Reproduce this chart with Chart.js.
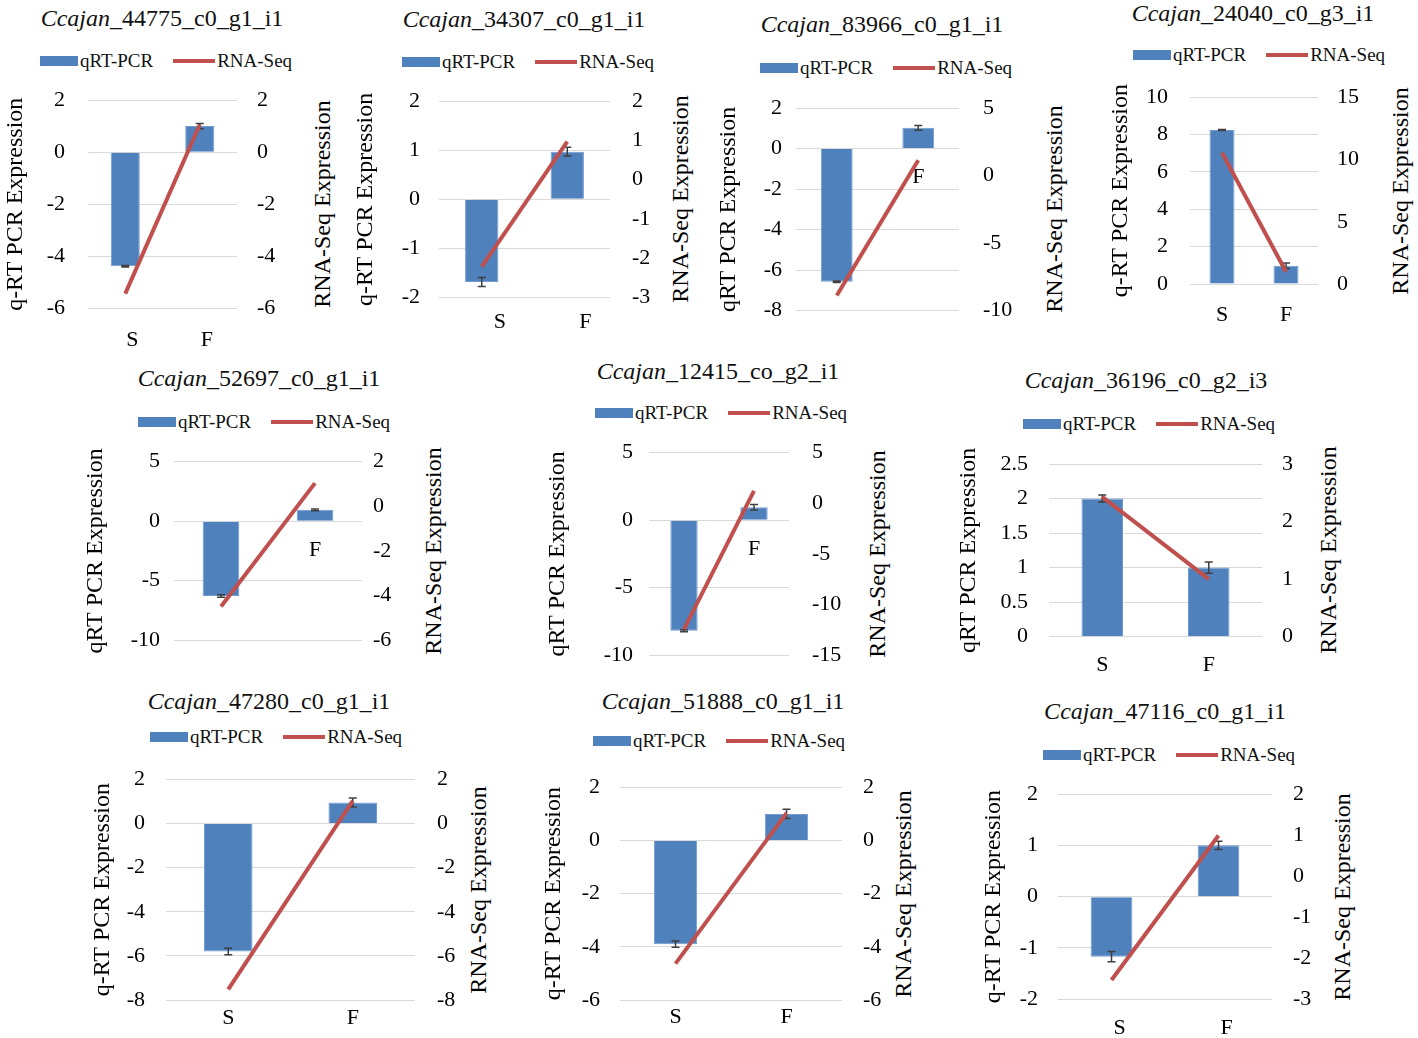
<!DOCTYPE html>
<html>
<head>
<meta charset="utf-8">
<script src="https://cdn.jsdelivr.net/npm/chart.js@4.4.1/dist/chart.umd.min.js"></script>
<style>
  body { margin: 0; background: #fff; }
  #fig { position: relative; width: 1418px; height: 1038px; overflow: hidden;
         font-family: 'Liberation Serif', 'Times New Roman', serif; color: #111; }
  #fig canvas { position: absolute; }
  .head { position: absolute; font-size: 24px; white-space: nowrap; transform: translate(-50%, -50%); }
  .legend { position: absolute; display: flex; align-items: center; font-size: 19px;
            white-space: nowrap; transform: translateY(-50%); }
  .legend .bar { width: 38px; height: 10px; background: #4f81bd; margin-right: 2px; }
  .legend .line { width: 42px; height: 4px; background: #c0504d; margin: 0 2px 0 20px; }
  .rtitle { position: absolute; font-size: 24px; white-space: nowrap; color: #000;
            transform: translate(-50%, -50%) rotate(-90deg); }
</style>
</head>
<body>
<div id="fig"></div>
<script>
// Values, one entry per panel
const genes = [
  'Ccajan_44775_c0_g1_i1', 'Ccajan_34307_c0_g1_i1', 'Ccajan_83966_c0_g1_i1', 'Ccajan_24040_c0_g3_i1',
  'Ccajan_52697_c0_g1_i1', 'Ccajan_12415_co_g2_i1', 'Ccajan_36196_c0_g2_i3',
  'Ccajan_47280_c0_g1_i1', 'Ccajan_51888_c0_g1_i1', 'Ccajan_47116_c0_g1_i1'
];
const conditions = ['S', 'F'];
const seriesNames = ['qRT-PCR', 'RNA-Seq'];

const qpcr = [
  [-4.38, 1.0], [-1.68, 0.97], [-6.57, 1.02], [8.25, 0.98], [-6.3, 0.95],
  [-8.2, 0.95], [2.0, 1.0], [-5.8, 0.95], [-3.9, 1.0], [-1.17, 1.0]
];
const qpcrError = [
  [0.03, 0.1], [0.09, 0.09], [0.04, 0.12], [0.03, 0.15], [0.1, 0.08],
  [0.08, 0.2], [0.05, 0.08], [0.15, 0.2], [0.12, 0.17], [0.1, 0.08]
];
const rnaSeq = [
  [-5.43, 1.05], [-2.21, 0.97], [-8.87, 1.13], [10.54, 0.99], [-4.5, 1.04],
  [-12.45, 1.22], [2.43, 1.0], [-7.52, 1.02], [-4.63, 1.03], [-2.53, 0.99]
];

// axis ranges: [min, max, step]
const leftRange = [
  [-6, 2, 2], [-2, 2, 1], [-8, 2, 2], [0, 10, 2], [-10, 5, 5],
  [-10, 5, 5], [0, 2.5, 0.5], [-8, 2, 2], [-6, 2, 2], [-2, 2, 1]
];
const rightRange = [
  [-6, 2, 2], [-3, 2, 1], [-10, 5, 5], [0, 15, 5], [-6, 2, 2],
  [-15, 5, 5], [0, 3, 1], [-8, 2, 2], [-6, 2, 2], [-3, 2, 1]
];
const leftTitles = [
  'q-RT PCR Expression', 'q-RT PCR Expression', 'qRT PCR Expression', 'q-RT PCR Expression',
  'qRT PCR Expression', 'qRT PCR Expression', 'qRT PCR Expression',
  'q-RT PCR Expression', 'q-RT PCR Expression', 'q-RT PCR Expression'
];
const rightTitle = 'RNA-Seq Expression';

// page layout of each panel (plot box x0,x1,y0,y1; axis title centres; tick label edges)
const boxes = [
  { plot: [88, 237, 100, 308.5], titles: [15, 322], ticks: [65, 257], gap: 31.5, head: [162, 18], legend: [40, 61], shift: 7 },
  { plot: [439, 610, 101, 297.7], titles: [365, 680], ticks: [420, 632], gap: 24.3, head: [524, 19], legend: [402, 62], shift: 18 },
  { plot: [796, 959, 108, 310.7], titles: [728, 1054], ticks: [782, 983], gap: 29, atZero: true, head: [882, 24], legend: [760, 68] },
  { plot: [1190, 1318, 97.3, 284], titles: [1120, 1400], ticks: [1168, 1337], gap: 31, head: [1253, 13], legend: [1133, 55] },
  { plot: [174, 362, 461.7, 640], titles: [95, 433], ticks: [160, 373], gap: 29, atZero: true, head: [259, 378], legend: [138, 421.7] },
  { plot: [649, 789, 452.7, 655], titles: [557, 877], ticks: [633, 812], gap: 29, atZero: true, head: [718, 371], legend: [595, 413] },
  { plot: [1049, 1262, 464, 636.7], titles: [968, 1328], ticks: [1028, 1282], gap: 28.3, head: [1146, 380], legend: [1023, 424] },
  { plot: [166, 415, 779.3, 1000], titles: [102, 478], ticks: [145, 437], gap: 18, head: [269, 701], legend: [150, 737] },
  { plot: [620, 842, 787.3, 1000], titles: [553, 903], ticks: [600, 863], gap: 17, head: [723, 701], legend: [593, 741] },
  { plot: [1058, 1272, 794, 999.3], titles: [993, 1342], ticks: [1038, 1293], gap: 28.7, head: [1165, 711], legend: [1043, 755], shift: 8 }
];

Chart.defaults.font.family = "'Liberation Serif', 'Times New Roman', serif";
Chart.defaults.color = '#111';

function errorBarPlugin(errors) {
  return {
    id: 'errorBars',
    afterDatasetDraw(chart, args) {
      if (args.index !== 0) return;
      const y = chart.scales.y;
      const ctx = chart.ctx;
      ctx.save();
      ctx.strokeStyle = '#3f3f3f';
      ctx.lineWidth = 1.5;
      args.meta.data.forEach((bar, i) => {
        const v = chart.data.datasets[0].data[i];
        const hi = y.getPixelForValue(v + errors[i]);
        const lo = y.getPixelForValue(v - errors[i]);
        ctx.beginPath();
        ctx.moveTo(bar.x, hi); ctx.lineTo(bar.x, lo);
        ctx.moveTo(bar.x - 4, hi); ctx.lineTo(bar.x + 4, hi);
        ctx.moveTo(bar.x - 4, lo); ctx.lineTo(bar.x + 4, lo);
        ctx.stroke();
      });
      ctx.restore();
    }
  };
}

const fig = document.getElementById('fig');

genes.forEach((gene, i) => {
  const b = boxes[i];
  const [x0, x1, y0, y1] = b.plot;

  // title with italic genus part
  const head = document.createElement('div');
  head.className = 'head';
  head.style.left = b.head[0] + 'px';
  head.style.top = b.head[1] + 'px';
  const cut = gene.indexOf('_');
  head.innerHTML = '<i>' + gene.slice(0, cut) + '</i>' + gene.slice(cut);
  fig.appendChild(head);

  const legend = document.createElement('div');
  legend.className = 'legend';
  legend.style.left = b.legend[0] + 'px';
  legend.style.top = b.legend[1] + 'px';
  legend.innerHTML = '<span class="bar"></span><span>' + seriesNames[0] + '</span>' +
                     '<span class="line"></span><span>' + seriesNames[1] + '</span>';
  fig.appendChild(legend);

  // right axis title reads bottom-to-top like the left one
  const rt = document.createElement('div');
  rt.className = 'rtitle';
  rt.style.left = b.titles[1] + 'px';
  rt.style.top = ((y0 + y1) / 2) + 'px';
  rt.textContent = rightTitle;
  fig.appendChild(rt);

  const cx0 = Math.round(b.titles[0] - 14);
  const cx1 = Math.round(b.titles[1] + 14);
  const cy0 = Math.round(y0 - 16);
  const cy1 = Math.round(b.atZero ? y1 + 16 : y1 + b.gap + 16);
  const canvas = document.createElement('canvas');
  canvas.width = cx1 - cx0;
  canvas.height = cy1 - cy0;
  canvas.style.left = cx0 + 'px';
  canvas.style.top = cy0 + 'px';
  fig.appendChild(canvas);

  const [lmin, lmax, lstep] = leftRange[i];
  const [rmin, rmax, rstep] = rightRange[i];

  new Chart(canvas, {
    type: 'bar',
    data: {
      labels: conditions,
      datasets: [{
        type: 'bar',
        label: seriesNames[0],
        data: qpcr[i],
        yAxisID: 'y',
        backgroundColor: '#4f81bd',
        borderColor: '#6f9bd2',
        borderWidth: 1,
        barPercentage: 0.39,
        categoryPercentage: 1,
        order: 2
      }, {
        type: 'line',
        label: seriesNames[1],
        data: rnaSeq[i],
        yAxisID: 'y1',
        borderColor: '#c0504d',
        borderWidth: 4,
        pointRadius: 0,
        order: 1
      }]
    },
    options: {
      responsive: false,
      animation: false,
      layout: { padding: { top: y0 - cy0, bottom: b.atZero ? cy1 - y1 : 0, left: 0, right: 0 } },
      plugins: { legend: { display: false }, tooltip: { enabled: false } },
      scales: {
        x: {
          position: b.atZero ? { y: 0 } : 'bottom',
          grid: { display: false, drawTicks: false },
          border: { display: false },
          ticks: { padding: b.gap - 13.2, labelOffset: b.shift || 0, font: { size: 22 }, color: '#000' },
          afterFit: s => { if (!b.atZero) s.height = cy1 - y1; }
        },
        y: {
          position: 'left',
          min: lmin, max: lmax,
          ticks: { stepSize: lstep, padding: x0 - b.ticks[0], font: { size: 22 }, color: '#000',
                   autoSkip: false, callback: v => String(v) },
          grid: { color: '#d9d9d9', drawTicks: false },
          border: { display: false },
          title: { display: true, text: leftTitles[i], font: { size: 24 }, color: '#000', padding: 0 },
          afterFit: s => { s.width = x0 - cx0; s.paddingTop = 0; s.paddingBottom = 0; }
        },
        y1: {
          position: 'right',
          min: rmin, max: rmax,
          ticks: { stepSize: rstep, padding: b.ticks[1] - x1, font: { size: 22 }, color: '#000',
                   autoSkip: false, callback: v => String(v) },
          grid: { display: false, drawTicks: false },
          border: { display: false },
          afterFit: s => { s.width = cx1 - x1; s.paddingTop = 0; s.paddingBottom = 0; }
        }
      }
    },
    plugins: [errorBarPlugin(qpcrError[i])]
  });
});
</script>
</body>
</html>
